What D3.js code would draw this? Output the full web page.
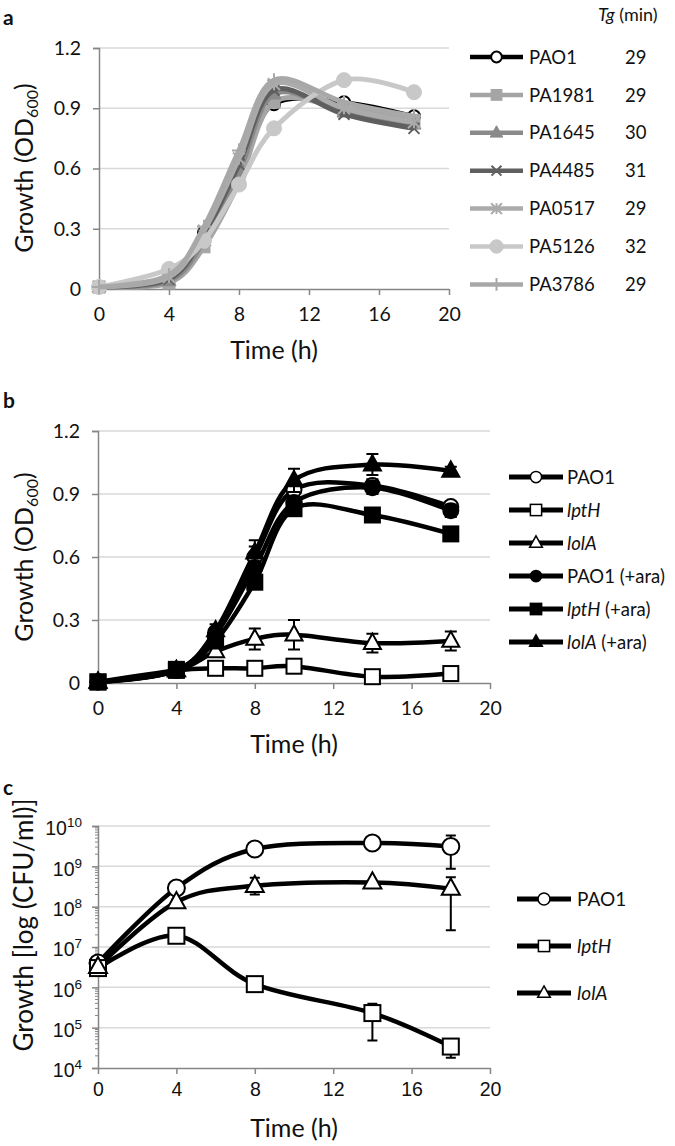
<!DOCTYPE html>
<html><head><meta charset="utf-8">
<script src="https://cdn.jsdelivr.net/npm/d3@7"></script>
<style>
html,body{margin:0;padding:0;background:#fff;}
svg{display:block;font-family:Lato,"Open Sans",sans-serif;}
</style></head>
<body>
<svg id="chart" width="675" height="1146"></svg>
<script>
// ---------- DATA ----------
// Panel a
const timeA = [0, 4, 6, 8, 10, 14, 18];
const strainsA = ["PAO1", "PA1981", "PA1645", "PA4485", "PA0517", "PA5126", "PA3786"];
const tgA = [29, 29, 30, 31, 29, 32, 29];
const odPAO1 = [0.01, 0.05, 0.28, 0.62, 0.92, 0.93, 0.86];
const odPA1981 = [0.01, 0.03, 0.21, 0.53, 0.93, 0.90, 0.84];
const odPA1645 = [0.01, 0.04, 0.24, 0.58, 0.97, 0.88, 0.82];
const odPA4485 = [0.01, 0.05, 0.27, 0.62, 0.99, 0.87, 0.80];
const odPA0517 = [0.01, 0.06, 0.29, 0.65, 1.02, 0.90, 0.83];
const odPA5126 = [0.01, 0.10, 0.24, 0.52, 0.80, 1.04, 0.98];
const odPA3786 = [0.01, 0.07, 0.31, 0.69, 1.04, 0.93, 0.86];
const odTicks = [0, 0.3, 0.6, 0.9, 1.2];
const timeTicks = [0, 4, 8, 12, 16, 20];

// Panel b
const timeB = [0, 4, 6, 8, 10, 14, 18];
const strainsB = ["PAO1", "lptH", "lolA", "PAO1 (+ara)", "lptH (+ara)", "lolA (+ara)"];
const odB_PAO1 = [0.005, 0.06, 0.24, 0.60, 0.92, 0.94, 0.84];
const odB_lptH = [0.005, 0.06, 0.07, 0.07, 0.08, 0.03, 0.045];
const odB_lolA = [0.005, 0.06, 0.15, 0.21, 0.23, 0.19, 0.20];
const odB_PAO1ara = [0.005, 0.06, 0.23, 0.55, 0.86, 0.93, 0.82];
const odB_lptHara = [0.005, 0.065, 0.20, 0.48, 0.83, 0.80, 0.71];
const odB_lolAara = [0.005, 0.06, 0.25, 0.62, 0.965, 1.04, 1.01];
const errB_PAO1 = [0, 0, 0.02, 0.05, 0.04, 0.03, 0.02];
const errB_lptH = [0, 0, 0.01, 0.01, 0.01, 0.02, 0.03];
const errB_lolA = [0, 0, 0.02, 0.05, 0.07, 0.045, 0.045];
const errB_PAO1ara = [0, 0, 0.02, 0.03, 0.03, 0.03, 0.03];
const errB_lptHara = [0, 0, 0.02, 0.03, 0.03, 0.02, 0.02];
const errB_lolAara = [0, 0, 0.03, 0.06, 0.055, 0.05, 0.02];

// Panel c
const timeC = [0, 4, 8, 14, 18];
const strainsC = ["PAO1", "lptH", "lolA"];
const cfuPAO1 = [4e6, 2.9e8, 2.7e9, 3.8e9, 3.1e9];
const cfuPAO1Hi = [4.5e6, 3.1e8, 2.9e9, 4e9, 5.8e9];
const cfuPAO1Lo = [3.5e6, 2.7e8, 2.5e9, 3.6e9, 8.7e8];
const cfuLptH = [3e6, 1.9e7, 1.2e6, 2.3e5, 3.4e4];
const cfuLptHHi = [3.3e6, 2.1e7, 1.4e6, 3.9e5, 4.6e4];
const cfuLptHLo = [2.7e6, 1.7e7, 1.0e6, 4.8e4, 1.8e4];
const cfuLolA = [3.2e6, 1.3e8, 3.3e8, 4e8, 2.8e8];
const cfuLolAHi = [3.5e6, 1.5e8, 5.2e8, 4.4e8, 5.4e8];
const cfuLolALo = [2.9e6, 1.1e8, 2.0e8, 3.6e8, 2.6e7];
const cfuExponents = [4, 5, 6, 7, 8, 9, 10];

// ---------- HELPERS ----------
const svg = d3.select("#chart");
const AXIS = "#868686", GRID = "#d9d9d9", TXT = "#111";

function marker(g, type, x, y, s, fill, stroke, sw) {
  let el;
  if (type === "circle") {
    el = g.append("circle").attr("cx", x).attr("cy", y).attr("r", s / 2);
  } else if (type === "square") {
    el = g.append("rect").attr("x", x - s / 2).attr("y", y - s / 2).attr("width", s).attr("height", s);
  } else if (type === "triangle") {
    const h = s * 0.9;
    el = g.append("path").attr("d", `M${x},${y - h * 0.62}L${x + s / 2},${y + h * 0.38}L${x - s / 2},${y + h * 0.38}Z`);
  } else if (type === "x") {
    const r = s / 2;
    el = g.append("path").attr("d", `M${x - r},${y - r}L${x + r},${y + r}M${x - r},${y + r}L${x + r},${y - r}`);
  } else if (type === "asterisk") {
    const r = s / 2;
    el = g.append("path").attr("d", `M${x - r},${y - r}L${x + r},${y + r}M${x - r},${y + r}L${x + r},${y - r}M${x},${y - r}L${x},${y + r}`);
  } else if (type === "plus") {
    const r = s / 2;
    el = g.append("path").attr("d", `M${x - r},${y}L${x + r},${y}M${x},${y - r}L${x},${y + r}`);
  }
  el.attr("fill", fill).attr("stroke", stroke).attr("stroke-width", sw);
  return el;
}

function gridAndAxes(g, x, y, ticks, fmt, xTickOffset) {
  const [x0, x1] = x.range();
  const [yb, yt] = y.range();
  g.append("g").selectAll("line").data(ticks.slice(1)).join("line")
    .attr("x1", x0).attr("x2", x1).attr("y1", d => y(d)).attr("y2", d => y(d))
    .attr("stroke", GRID).attr("stroke-width", 1.5);
  const ya = g.append("g").attr("transform", `translate(${x0},0)`)
    .call(d3.axisLeft(y).tickValues(ticks).tickSize(6).tickPadding(12).tickFormat(fmt));
  ya.select(".domain").attr("stroke", AXIS).attr("stroke-width", 1.5);
  ya.selectAll(".tick line").attr("stroke", AXIS).attr("stroke-width", 1.5);
  ya.selectAll("text").attr("font-size", 19.5).attr("fill", TXT).attr("font-family", "Lato");
  const xa = g.append("g").attr("transform", `translate(0,${yb})`)
    .call(d3.axisBottom(x).tickValues(timeTicks).tickSize(6).tickPadding(xTickOffset).tickSizeOuter(0));
  xa.select(".domain").attr("stroke", AXIS).attr("stroke-width", 1.5);
  xa.selectAll(".tick line").attr("stroke", AXIS).attr("stroke-width", 1.5);
  xa.selectAll("text").attr("font-size", 19.5).attr("fill", TXT).attr("font-family", "Lato");
  return ya;
}

function yTitle(g, cx, cy, parts) {
  const t = g.append("text").attr("transform", `translate(${cx},${cy}) rotate(-90)`)
    .attr("text-anchor", "middle").attr("font-size", 25).attr("fill", TXT);
  parts.forEach(p => {
    const ts = t.append("tspan").text(p.t);
    if (p.sub) ts.attr("font-size", 16).attr("dy", 5);
    if (p.after) ts.attr("dy", -5);
  });
}

function xTitle(g, cx, by) {
  g.append("text").attr("x", cx).attr("y", by).attr("text-anchor", "middle")
    .attr("font-size", 25).attr("fill", TXT).text("Time (h)");
}

function panelLabel(txt, x, y) {
  svg.append("text").attr("x", x).attr("y", y).attr("font-size", 21).attr("font-weight", "bold")
    .attr("fill", "#111").text(txt);
}

const smooth = d3.curveCardinal.tension(0);
const fmtOD = d => d === 0 ? "0" : d3.format(".1f")(d);

// ---------- PANEL A ----------
(function () {
  const g = svg.append("g");
  const x = d3.scaleLinear().domain([0, 20]).range([99, 449]);
  const y = d3.scaleLinear().domain([0, 1.2]).range([289, 48]);
  gridAndAxes(g, x, y, odTicks, fmtOD, 12);
  const series = [
    { name: strainsA[0], v: odPAO1, col: "#000", m: "circle", mf: "#fff", ms: "#000", s: 12, msw: 2 },
    { name: strainsA[1], v: odPA1981, col: "#a5a5a5", m: "square", mf: "#a5a5a5", ms: "#a5a5a5", s: 12, msw: 1 },
    { name: strainsA[2], v: odPA1645, col: "#8a8a8a", m: "triangle", mf: "#8a8a8a", ms: "#8a8a8a", s: 14, msw: 1 },
    { name: strainsA[3], v: odPA4485, col: "#5f5f5f", m: "x", mf: "none", ms: "#5f5f5f", s: 11, msw: 2 },
    { name: strainsA[4], v: odPA0517, col: "#ababab", m: "asterisk", mf: "none", ms: "#ababab", s: 12, msw: 2 },
    { name: strainsA[5], v: odPA5126, col: "#c8c8c8", m: "circle", mf: "#c8c8c8", ms: "#c8c8c8", s: 15, msw: 1 },
    { name: strainsA[6], v: odPA3786, col: "#a8a8a8", m: "plus", mf: "none", ms: "#a8a8a8", s: 14, msw: 2 }
  ];
  const line = d3.line().x((d, i) => x(timeA[i])).y(d => y(d)).curve(smooth);
  series.forEach(s => {
    g.append("path").attr("d", line(s.v)).attr("fill", "none").attr("stroke", s.col)
      .attr("stroke-width", s.name === "PAO1" ? 4 : 5);
    s.v.forEach((d, i) => marker(g, s.m, x(timeA[i]), y(d), s.s, s.mf, s.ms, s.msw));
  });
  yTitle(g, 33, 168, [{ t: "Growth (OD" }, { t: "600", sub: true }, { t: ")", after: true }]);
  xTitle(g, 274, 359);
  const lg = svg.append("g");
  lg.append("text").attr("x", 598).attr("y", 21).attr("font-size", 18).attr("fill", TXT)
    .call(t => { t.append("tspan").attr("font-style", "italic").text("Tg"); t.append("tspan").text(" (min)"); });
  series.forEach((s, i) => {
    const yy = 57 + i * 37.9;
    lg.append("line").attr("x1", 470).attr("x2", 523).attr("y1", yy).attr("y2", yy)
      .attr("stroke", s.col).attr("stroke-width", 4.5);
    marker(lg, s.m, 496.5, yy, s.s * 0.9, s.mf, s.ms, s.msw);
    lg.append("text").attr("x", 529).attr("y", yy).attr("dy", "0.36em").attr("font-size", 18.5)
      .attr("fill", TXT).text(s.name);
    lg.append("text").attr("x", 625).attr("y", yy).attr("dy", "0.36em").attr("font-size", 18.5)
      .attr("fill", TXT).text(tgA[i]);
  });
  panelLabel("a", 3, 25);
})();

// ---------- PANEL B ----------
(function () {
  const g = svg.append("g");
  const x = d3.scaleLinear().domain([0, 20]).range([98, 490]);
  const y = d3.scaleLinear().domain([0, 1.2]).range([683, 431]);
  gridAndAxes(g, x, y, odTicks, fmtOD, 12);
  const series = [
    { name: strainsB[0], v: odB_PAO1, e: errB_PAO1, m: "circle", mf: "#fff", s: 15 },
    { name: strainsB[1], v: odB_lptH, e: errB_lptH, m: "square", mf: "#fff", s: 15 },
    { name: strainsB[2], v: odB_lolA, e: errB_lolA, m: "triangle", mf: "#fff", s: 17 },
    { name: strainsB[3], v: odB_PAO1ara, e: errB_PAO1ara, m: "circle", mf: "#000", s: 15 },
    { name: strainsB[4], v: odB_lptHara, e: errB_lptHara, m: "square", mf: "#000", s: 15 },
    { name: strainsB[5], v: odB_lolAara, e: errB_lolAara, m: "triangle", mf: "#000", s: 17 }
  ];
  const line = d3.line().x((d, i) => x(timeB[i])).y(d => y(d)).curve(smooth);
  series.forEach(s => {
    g.append("path").attr("d", line(s.v)).attr("fill", "none").attr("stroke", "#000").attr("stroke-width", 4.5);
  });
  series.forEach(s => {
    s.v.forEach((d, i) => {
      if (s.e[i] > 0) {
        const xx = x(timeB[i]), y1 = y(d + s.e[i]), y2 = y(d - s.e[i]);
        g.append("path").attr("d", `M${xx},${y1}L${xx},${y2}M${xx - 6},${y1}L${xx + 6},${y1}M${xx - 6},${y2}L${xx + 6},${y2}`)
          .attr("stroke", "#000").attr("stroke-width", 2).attr("fill", "none");
      }
    });
    s.v.forEach((d, i) => marker(g, s.m, x(timeB[i]), y(d), s.s, s.mf, "#000", 2));
  });
  yTitle(g, 33, 557, [{ t: "Growth (OD" }, { t: "600", sub: true }, { t: ")", after: true }]);
  xTitle(g, 294, 753);
  const lg = svg.append("g");
  series.forEach((s, i) => {
    const yy = 477 + i * 33;
    lg.append("line").attr("x1", 509).attr("x2", 563).attr("y1", yy).attr("y2", yy)
      .attr("stroke", "#000").attr("stroke-width", 5);
    marker(lg, s.m, 536, yy, s.s * 0.75, s.mf, "#000", 1.5);
    const t = lg.append("text").attr("x", 567).attr("y", yy).attr("dy", "0.36em").attr("font-size", 18.5).attr("fill", TXT);
    const parts = s.name.split(" ");
    if (parts[0] === "PAO1") t.text(s.name);
    else {
      t.append("tspan").attr("font-style", "italic").text(parts[0]);
      if (parts[1]) t.append("tspan").text(" " + parts[1]);
    }
  });
  panelLabel("b", 3, 408);
})();

// ---------- PANEL C ----------
(function () {
  const g = svg.append("g");
  const x = d3.scaleLinear().domain([0, 20]).range([98, 490]);
  const y = d3.scaleLog().domain([1e4, 1e10]).range([1068, 826]);
  const [x0, x1] = x.range();
  const majors = cfuExponents.map(e => Math.pow(10, e));
  g.append("g").selectAll("line").data(majors.slice(1)).join("line")
    .attr("x1", x0).attr("x2", x1).attr("y1", d => y(d)).attr("y2", d => y(d))
    .attr("stroke", GRID).attr("stroke-width", 1.5);
  const minors = [];
  cfuExponents.slice(0, -1).forEach(e => { for (let k = 2; k <= 9; k++) minors.push(k * Math.pow(10, e)); });
  g.append("g").selectAll("line").data(minors).join("line")
    .attr("x1", x0 - 3).attr("x2", x0).attr("y1", d => y(d)).attr("y2", d => y(d))
    .attr("stroke", AXIS).attr("stroke-width", 1);
  const ya = g.append("g").attr("transform", `translate(${x0},0)`)
    .call(d3.axisLeft(y).tickValues(majors).tickSize(6).tickPadding(10).tickFormat(""));
  ya.select(".domain").attr("stroke", AXIS).attr("stroke-width", 1.5);
  ya.selectAll(".tick line").attr("stroke", AXIS).attr("stroke-width", 1.5);
  ya.selectAll(".tick").each(function (d, i) {
    const t = d3.select(this).select("text").attr("font-size", 19.5).attr("fill", TXT).attr("dy", "0.45em");
    t.append("tspan").text("10");
    t.append("tspan").attr("font-size", 13.5).attr("dy", -8).text(cfuExponents[i]);
  });
  const xa = g.append("g").attr("transform", `translate(0,1068)`)
    .call(d3.axisBottom(x).tickValues(timeTicks).tickSize(6).tickPadding(8).tickSizeOuter(0));
  xa.select(".domain").attr("stroke", AXIS).attr("stroke-width", 1.5);
  xa.selectAll(".tick line").attr("stroke", AXIS).attr("stroke-width", 1.5);
  xa.selectAll("text").attr("font-size", 19.5).attr("fill", TXT);

  const series = [
    { name: strainsC[0], v: cfuPAO1, hi: cfuPAO1Hi, lo: cfuPAO1Lo, m: "circle", s: 17 },
    { name: strainsC[1], v: cfuLptH, hi: cfuLptHHi, lo: cfuLptHLo, m: "square", s: 16 },
    { name: strainsC[2], v: cfuLolA, hi: cfuLolAHi, lo: cfuLolALo, m: "triangle", s: 18 }
  ];
  const line = d3.line().x((d, i) => x(timeC[i])).y(d => y(d)).curve(smooth);
  series.forEach(s => {
    g.append("path").attr("d", line(s.v)).attr("fill", "none").attr("stroke", "#000").attr("stroke-width", 4.5);
  });
  series.forEach(s => {
    s.v.forEach((d, i) => {
      const xx = x(timeC[i]), y1 = y(s.hi[i]), y2 = y(s.lo[i]);
      g.append("path").attr("d", `M${xx},${y1}L${xx},${y2}M${xx - 5},${y1}L${xx + 5},${y1}M${xx - 5},${y2}L${xx + 5},${y2}`)
        .attr("stroke", "#000").attr("stroke-width", 2).attr("fill", "none");
    });
    s.v.forEach((d, i) => marker(g, s.m, x(timeC[i]), y(d), s.s, "#fff", "#000", 2));
  });
  g.append("text").attr("transform", `translate(33,925) rotate(-90)`).attr("text-anchor", "middle")
    .attr("font-size", 26).attr("fill", TXT).text("Growth [log (CFU/ml)]");
  xTitle(g, 294, 1137);
  const lg = svg.append("g");
  series.forEach((s, i) => {
    const yy = 899 + i * 47;
    lg.append("line").attr("x1", 517).attr("x2", 571).attr("y1", yy).attr("y2", yy)
      .attr("stroke", "#000").attr("stroke-width", 5);
    marker(lg, s.m, 544, yy, s.s * 0.7, "#fff", "#000", 1.5);
    const t = lg.append("text").attr("x", 577).attr("y", yy).attr("dy", "0.36em").attr("font-size", 19).attr("fill", TXT);
    if (s.name === "PAO1") t.text(s.name); else t.attr("font-style", "italic").text(s.name);
  });
  panelLabel("c", 3, 795);
})();
</script>
</body></html>
